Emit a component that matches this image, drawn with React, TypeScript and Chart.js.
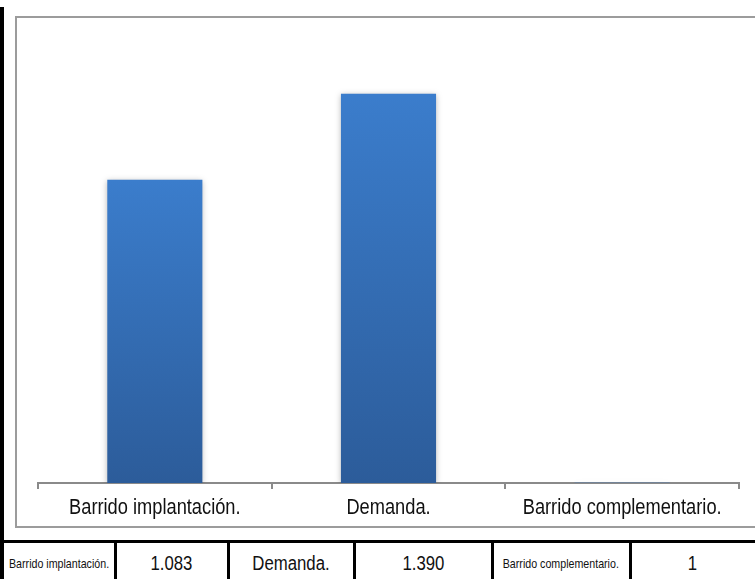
import React, { useEffect, useRef } from "react";
import { Chart, registerables } from "chart.js";

Chart.register(...registerables);

const categories = ["Barrido implantación.", "Demanda.", "Barrido complementario."];
const values = [1083, 1390, 1];
const valueLabels = ["1.083", "1.390", "1"];
const yMax = 1600;

const FONT = "'Liberation Sans', Arial, sans-serif";
const NARROW = 0.83;

const shadowPlugin = {
  id: "barShadow",
  beforeDatasetsDraw(chart: any) {
    const ctx = chart.ctx;
    ctx.save();
    ctx.shadowColor = "rgba(0,0,0,0.28)";
    ctx.shadowBlur = 6;
    ctx.shadowOffsetX = 0;
    ctx.shadowOffsetY = 1;
  },
  afterDatasetsDraw(chart: any) {
    chart.ctx.restore();
  },
};

// Draws the category labels in a condensed (narrow) style at the scale's tick positions
const narrowLabels = {
  id: "narrowLabels",
  afterDraw(chart: any) {
    const x = chart.scales.x;
    const ctx = chart.ctx;
    const labels = chart.data.labels as string[];
    ctx.save();
    ctx.fillStyle = "#111";
    ctx.font = `22px ${FONT}`;
    ctx.textAlign = "center";
    ctx.textBaseline = "middle";
    labels.forEach((lab, i) => {
      const px = x.getPixelForTick(i);
      const py = x.top + 25;
      ctx.save();
      ctx.translate(px, py);
      ctx.scale(NARROW, 1);
      ctx.fillText(lab, 0, 0);
      ctx.restore();
    });
    ctx.restore();
  },
};

function ChartBox() {
  const ref = useRef<HTMLCanvasElement | null>(null);
  useEffect(() => {
    if (!ref.current) return;
    const chart = new Chart(ref.current, {
      type: "bar",
      data: {
        labels: categories,
        datasets: [
          {
            data: values,
            backgroundColor: (c: any) => {
              const ch = c.chart;
              const y = ch.scales && ch.scales.y;
              if (!y || c.parsed === undefined) return "#3470b8";
              const top = y.getPixelForValue(c.parsed.y);
              const bottom = y.getPixelForValue(0);
              if (!isFinite(top) || !isFinite(bottom) || bottom - top < 1) return "#3a7ac8";
              const g = ch.ctx.createLinearGradient(0, top, 0, bottom);
              g.addColorStop(0, "#3b7dcc");
              g.addColorStop(1, "#2c5c9a");
              return g;
            },
            borderWidth: 0,
            categoryPercentage: 1,
            barPercentage: 0.407,
          },
        ],
      },
      options: {
        responsive: false,
        animation: false,
        maintainAspectRatio: false,
        layout: { padding: { top: 17, left: 21, right: 16, bottom: 0 } },
        plugins: { legend: { display: false }, tooltip: { enabled: false } },
        scales: {
          y: { display: false, min: 0, max: yMax },
          x: {
            afterFit: (s: any) => {
              s.height = 43;
            },
            grid: {
              drawOnChartArea: false,
              drawTicks: true,
              tickLength: 6,
              color: "#8a8a8a",
              lineWidth: 2,
              offset: true,
            },
            border: { display: true, color: "#8a8a8a", width: 2 },
            ticks: {
              display: false,
            },
          },
        },
      },
      plugins: [shadowPlugin, narrowLabels],
    });
    return () => chart.destroy();
  }, []);
  return <canvas ref={ref} width={738} height={508} style={{ position: "absolute", left: 0, top: 0, width: 738, height: 508 }} />;
}

const colEdges = [4, 115, 228, 354, 492, 630, 755];
const cellTexts: string[] = [];
const cellSmall: boolean[] = [];
categories.forEach((c, i) => {
  cellTexts.push(c);
  cellSmall.push(c.length > 12);
  cellTexts.push(valueLabels[i]);
  cellSmall.push(false);
});

export default function App() {
  return (
    <div style={{ position: "fixed", left: 0, top: 0, width: 755, height: 579, background: "#fff", overflow: "hidden" }}>
      <div style={{ position: "absolute", left: 0, top: 7, width: 4, height: 572, background: "#000" }} />
      <div
        style={{
          position: "absolute",
          left: 15,
          top: 16,
          width: 760,
          height: 508,
          border: "2px solid #9c9c9c",
          background: "#fff",
        }}
      >
        <ChartBox />
      </div>
      <div style={{ position: "absolute", left: 4, top: 540, width: 751, height: 3, background: "#000" }} />
      {cellTexts.map((t, i) => {
        const l = colEdges[i];
        const r = colEdges[i + 1];
        return (
          <React.Fragment key={i}>
            {i > 0 && <div style={{ position: "absolute", left: l - 1, top: 540, width: 3, height: 39, background: "#000" }} />}
            <div
              style={{
                position: "absolute",
                left: l,
                top: 545,
                width: r - l,
                height: 36,
                display: "flex",
                alignItems: "center",
                justifyContent: "center",
                fontFamily: FONT,
                fontSize: cellSmall[i] ? 13 : 19.5,
                color: "#111",
                whiteSpace: "nowrap",
              }}
            >
              <span style={{ display: "inline-block", transform: `scaleX(${cellSmall[i] ? 0.82 : 0.86})` }}>{t}</span>
            </div>
          </React.Fragment>
        );
      })}
    </div>
  );
}
